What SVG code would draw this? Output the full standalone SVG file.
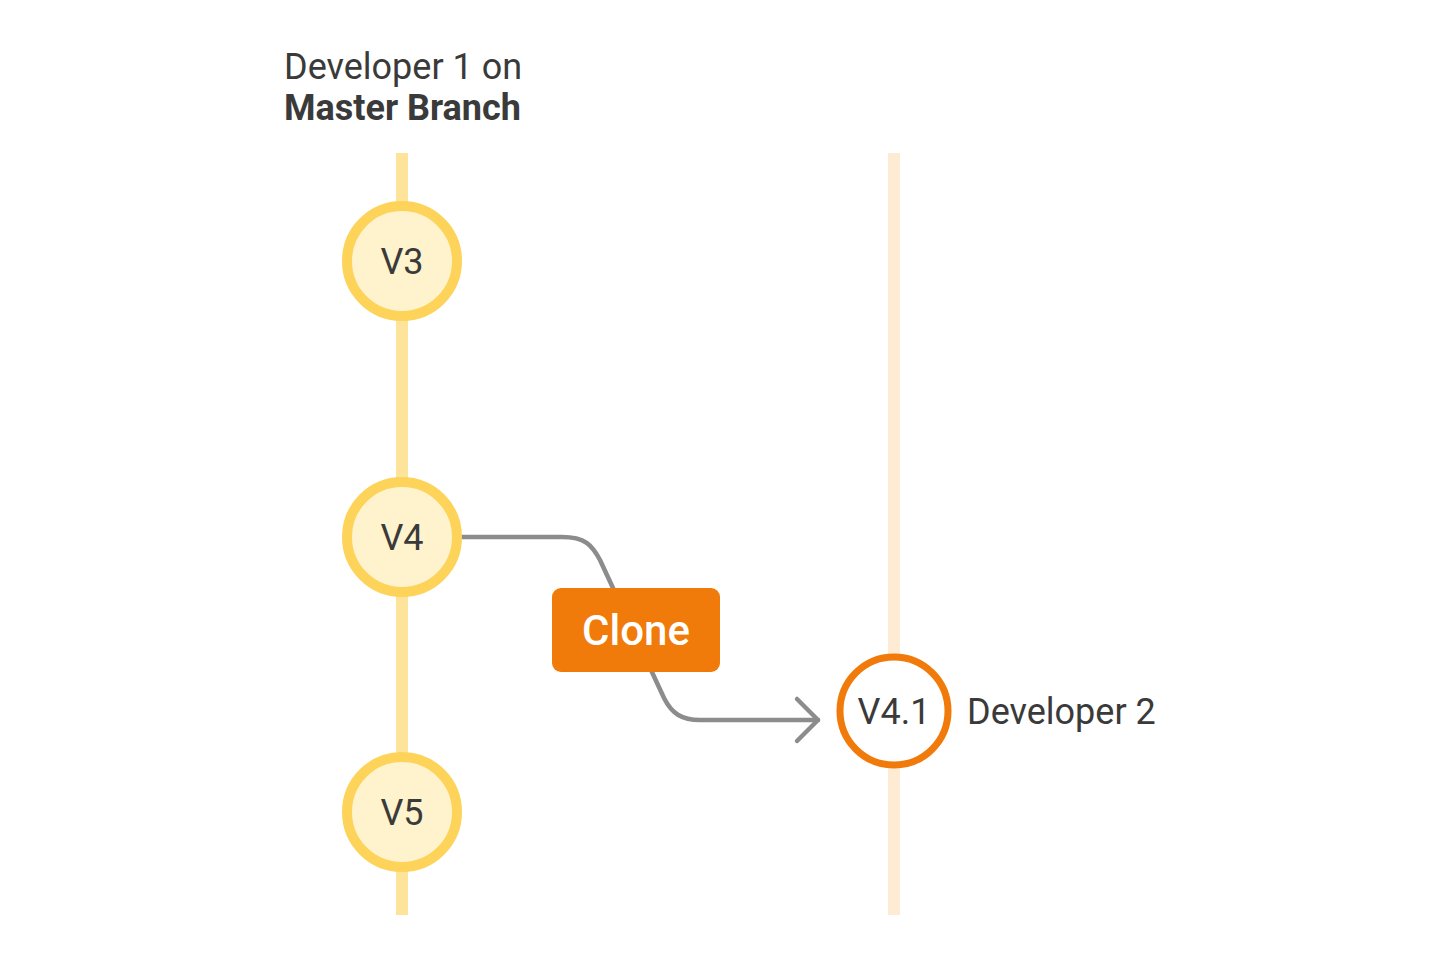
<svg xmlns="http://www.w3.org/2000/svg" width="1440" height="960" viewBox="0 0 1440 960">
<style>
.lbl{font-family:Roboto,"Liberation Sans",sans-serif;fill:#3a3a3a}
.v{stroke:#FDD35A;stroke-width:10;fill:#FEF3CD}
.vt{font-family:Roboto,"Liberation Sans",sans-serif;font-size:36px;fill:#3a3a3a;text-anchor:middle}
.conn{fill:none;stroke:#8C8C8C;stroke-width:4.5;stroke-linecap:round;stroke-linejoin:round}
</style>
<rect width="1440" height="960" fill="#fff"/>
<g id="title">
<text class="lbl" x="284" y="79" font-size="36">Developer 1 on</text>
<text class="lbl" x="284" y="120" font-size="36" font-weight="bold">Master Branch</text>
</g>
<g id="lanes">
<rect x="396" y="153" width="12" height="762" fill="#FDE49A"/>
<rect x="888" y="153" width="12" height="762" fill="#FDEBD3"/>
</g>
<g id="connectors">
<path class="conn" d="M462 537 H562 C585 537 592 545 600 560 L664 698 C672 714 682 720 700 720 H818"/>
<polyline class="conn" points="797,699 818,720 797,741"/>
</g>
<g id="V3">
<circle class="v" cx="402" cy="261" r="55"/>
<text class="vt" x="402" y="274">V3</text>
</g>
<g id="V4">
<circle class="v" cx="402" cy="537" r="55"/>
<text class="vt" x="402" y="550">V4</text>
</g>
<g id="V5">
<circle class="v" cx="402" cy="812" r="55"/>
<text class="vt" x="402" y="825">V5</text>
</g>
<g id="clone">
<rect x="552" y="588" width="168" height="84" rx="9" fill="#F07A0A"/>
<text x="636" y="645" font-family="Roboto,'Liberation Sans',sans-serif" font-size="42" font-weight="500" fill="#fff" text-anchor="middle">Clone</text>
</g>
<g id="V41">
<circle cx="894" cy="711" r="54" fill="#fff" stroke="#F07A0A" stroke-width="7"/>
<text class="vt" x="894" y="724">V4.1</text>
<text class="lbl" x="967" y="724" font-size="36">Developer 2</text>
</g>
</svg>
